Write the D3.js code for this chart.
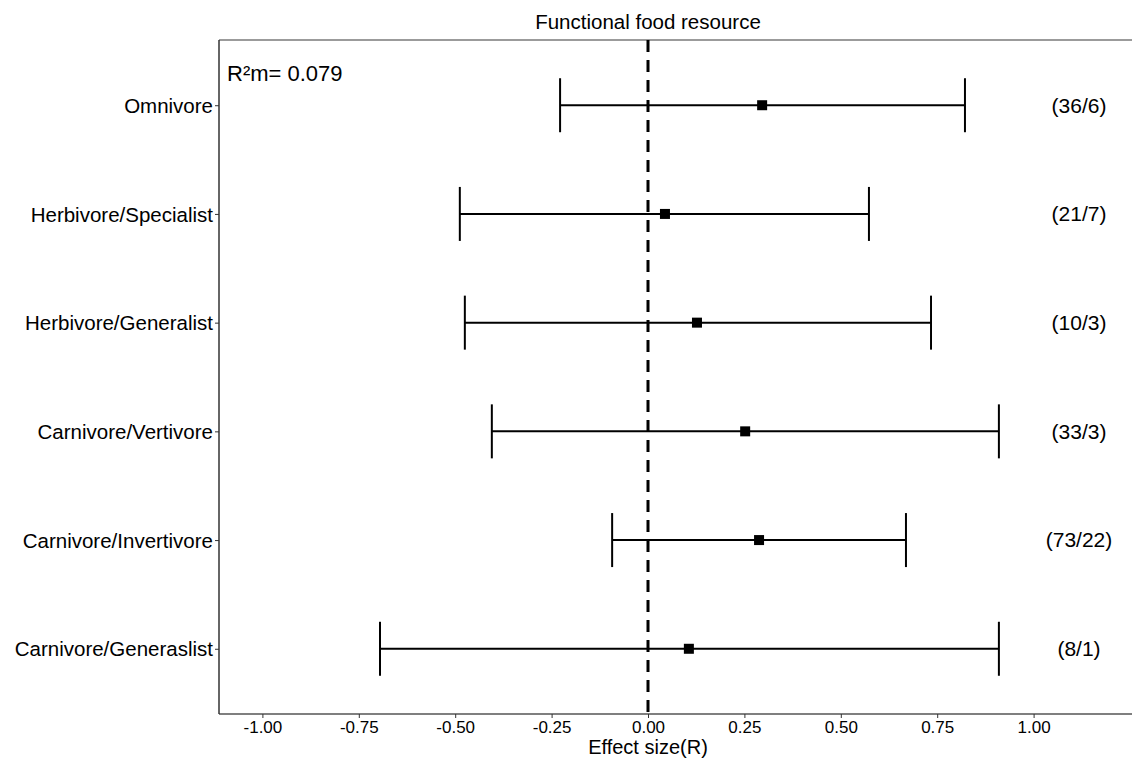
<!DOCTYPE html>
<html>
<head>
<meta charset="utf-8">
<script src="https://cdn.jsdelivr.net/npm/d3@7"></script>
<style>
  body { margin: 0; background: #fff; }
  text { font-family: "Liberation Sans", Arial, sans-serif; fill: #000; }
</style>
</head>
<body>
<svg width="1132" height="760"></svg>
<script>
// groups top to bottom
var groups = ["Omnivore", "Herbivore/Specialist", "Herbivore/Generalist",
  "Carnivore/Vertivore", "Carnivore/Invertivore", "Carnivore/Generaslist"];
var means = [0.296, 0.044, 0.127, 0.252, 0.288, 0.106];
var lower = [-0.228, -0.488, -0.475, -0.405, -0.093, -0.695];
var upper = [0.822, 0.573, 0.734, 0.910, 0.669, 0.910];
var counts = ["(36/6)", "(21/7)", "(10/3)", "(33/3)", "(73/22)", "(8/1)"];
var xTicks = [-1, -0.75, -0.5, -0.25, 0, 0.25, 0.5, 0.75, 1];

var svg = d3.select("svg");
var panelL = 219, panelR = 1132, panelT = 40, panelB = 714;

var x = d3.scaleLinear().domain([0, 1]).range([648, 1033.6]);
var y = d3.scalePoint().domain(groups).range([panelT, panelB]).padding(0.6);

// panel lines (top, bottom, left; open to the right)
svg.append("line").attr("x1", panelL).attr("x2", panelR).attr("y1", panelT).attr("y2", panelT)
  .attr("stroke", "#7a7a7a").attr("stroke-width", 1.5);
svg.append("line").attr("x1", panelL).attr("x2", panelR).attr("y1", panelB).attr("y2", panelB)
  .attr("stroke", "#555").attr("stroke-width", 1.5);
svg.append("line").attr("x1", panelL).attr("x2", panelL).attr("y1", panelT).attr("y2", panelB)
  .attr("stroke", "#333").attr("stroke-width", 1.5);

// reference line at 0
svg.append("line").attr("x1", x(0)).attr("x2", x(0)).attr("y1", panelT).attr("y2", panelB)
  .attr("stroke", "#000").attr("stroke-width", 3).attr("stroke-dasharray", "12,8");

// x axis
var fmt = d3.format(".2f");
var xAxis = svg.append("g")
  .attr("transform", "translate(0," + panelB + ")")
  .call(d3.axisBottom(x).tickValues(xTicks)
    .tickFormat(function(d) { return fmt(d).replace("−", "-"); })
    .tickSize(4).tickPadding(3));
xAxis.select(".domain").remove();
xAxis.selectAll("line").attr("stroke", "#333");
xAxis.selectAll("text").attr("font-size", 17).attr("fill", "#222");

svg.append("text").attr("x", x(0)).attr("y", 754).attr("text-anchor", "middle")
  .attr("font-size", 20).text("Effect size(R)");

// y axis
var yAxis = svg.append("g").attr("transform", "translate(" + panelL + ",0)")
  .call(d3.axisLeft(y).tickSize(4).tickPadding(2));
yAxis.select(".domain").remove();
yAxis.selectAll("line").attr("stroke", "#333");
yAxis.selectAll("text").attr("font-size", 20.5).attr("dy", "0.35em");

// error bars
var rows = svg.append("g").selectAll("g").data(groups).enter().append("g");
rows.append("line")
  .attr("x1", function(d, i) { return x(lower[i]); })
  .attr("x2", function(d, i) { return x(upper[i]); })
  .attr("y1", function(d) { return y(d); }).attr("y2", function(d) { return y(d); })
  .attr("stroke", "#000").attr("stroke-width", 2);
rows.append("line")
  .attr("x1", function(d, i) { return x(lower[i]); })
  .attr("x2", function(d, i) { return x(lower[i]); })
  .attr("y1", function(d) { return y(d) - 27; }).attr("y2", function(d) { return y(d) + 27; })
  .attr("stroke", "#000").attr("stroke-width", 2);
rows.append("line")
  .attr("x1", function(d, i) { return x(upper[i]); })
  .attr("x2", function(d, i) { return x(upper[i]); })
  .attr("y1", function(d) { return y(d) - 27; }).attr("y2", function(d) { return y(d) + 27; })
  .attr("stroke", "#000").attr("stroke-width", 2);
rows.append("rect")
  .attr("x", function(d, i) { return x(means[i]) - 5; })
  .attr("y", function(d) { return y(d) - 5; })
  .attr("width", 10).attr("height", 10).attr("fill", "#000");
rows.append("text")
  .attr("x", 1079).attr("y", function(d) { return y(d); })
  .attr("dy", "0.35em")
  .attr("text-anchor", "middle").attr("font-size", 21)
  .text(function(d, i) { return counts[i]; });

// title and R2 annotation
svg.append("text").attr("x", x(0)).attr("y", 29).attr("text-anchor", "middle")
  .attr("font-size", 20.5).text("Functional food resource");
svg.append("text").attr("x", 227).attr("y", 81).attr("font-size", 22).text("R²m= 0.079");
</script>
</body>
</html>
